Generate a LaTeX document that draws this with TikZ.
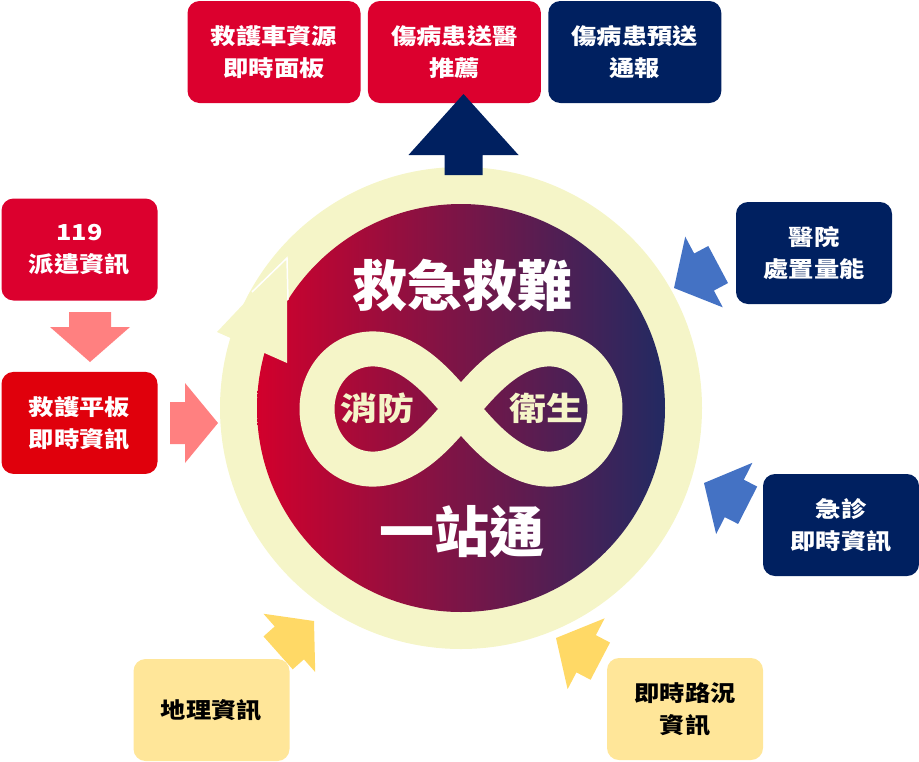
\documentclass[tikz,border=0pt]{standalone}
\usepackage{fontspec}
\newfontfamily\cjk{Noto Sans CJK TC}[FakeStretch=1.15]
\newfontfamily\cjkbig{Noto Sans CJK TC}
\usetikzlibrary{positioning}

\definecolor{boxred}{RGB}{220,0,46}
\definecolor{boxredb}{RGB}{224,0,12}
\definecolor{navy}{RGB}{0,32,96}
\definecolor{pinkarr}{RGB}{255,128,128}
\definecolor{bluearr}{RGB}{68,114,196}
\definecolor{goldarr}{RGB}{255,217,102}
\definecolor{goldbox}{RGB}{255,230,153}
\definecolor{cream}{RGB}{245,245,200}
\definecolor{discL}{RGB}{210,0,44}
\definecolor{discM}{RGB}{132,18,72}
\definecolor{discR}{RGB}{34,42,98}

\begin{document}
\begin{tikzpicture}[x=1pt,y=-1pt,node distance=7pt,
    infobox/.style={rounded corners=12pt,minimum width=156pt,minimum height=102pt,
      align=center,inner sep=0pt,font=\cjk\bfseries\fontsize{22}{32}\selectfont},
    redbox/.style={infobox,fill=boxred,text=white},
    navybox/.style={infobox,fill=navy,text=white},
    goldbox/.style={infobox,fill=goldbox,text=black},
    topbox/.style={minimum width=173pt},
    pics/fatarrow/.style n args={4}{code={
      \fill (0,0) -- (-#2,#3) -- (-#2,#4) -- (-#1,#4) -- (-#1,-#4) -- (-#2,-#4) -- (-#2,-#3) -- cycle;}}]

  \useasboundingbox (0,0) rectangle (919,761);

  \coordinate (c) at (461,408);
  \fill[cream] (c) circle (241);
  \shade[left color=discL,middle color=discM,right color=discR] (c) circle (204);
  \fill[cream] (287,258) -- (217,332) -- (287,363) -- cycle;
  \draw[white,line width=1.5pt] (252,292) -- (287,258) -- (288,300);
  \draw[cream,line width=35pt,line join=round]
    plot[domain=0:358,samples=180,smooth cycle]
    ({461+144*cos(\x)/(1+pow(sin(\x),2))},{409+170*sin(\x)*cos(\x)/(1+pow(sin(\x),2))});

  \node[text=white,font=\cjkbig\bfseries\fontsize{55}{60}\selectfont] (rescue) at (462,285) {救急救難};
  \node[text=white,font=\cjkbig\bfseries\fontsize{55}{60}\selectfont] (onestop) at (462,532) {一站通};
  \node[text=cream,font=\cjk\bfseries\fontsize{32}{36}\selectfont] (fire) at (377,408) {消防};
  \node[text=cream,font=\cjk\bfseries\fontsize{32}{36}\selectfont] (health) at (546,408) {衛生};

  \node[redbox,topbox] (fleet) at (274,52) {救護車資源\\即時面板};
  \node[redbox,topbox,right=of fleet] (referral) {傷病患送醫\\推薦};
  \node[navybox,topbox,right=of referral] (notice) {傷病患預送\\通報};

  \node[redbox] (dispatch) at (79.5,249.5) {119\\派遣資訊};
  \node[redbox,fill=boxredb,below=71pt of dispatch] (tablet) {救護平板\\即時資訊};

  \node[navybox] (hospital) at (814,253) {醫院\\處置量能};
  \node[navybox] (er) at (841,525) {急診\\即時資訊};

  \node[goldbox] (geo) at (211.5,710) {地理資訊};
  \node[goldbox] (traffic) at (685,709) {即時路況\\資訊};

  \pic[fill=navy,rotate=90] at (463.5,94) {fatarrow={81}{61}{55}{19}};
  \pic[fill=pinkarr,rotate=-90] at (90,362) {fatarrow={50}{35}{40}{21}};
  \pic[fill=pinkarr] at (218,423) {fatarrow={48}{33}{40}{21}};
  \pic[fill=bluearr,rotate=208] at (674,288) {fatarrow={50}{34}{40}{21}};
  \pic[fill=bluearr,rotate=153] at (704,483) {fatarrow={49}{34}{40}{21}};
  \pic[fill=goldarr,rotate=41.6] at (314,621) {fatarrow={48}{33}{39}{22}};
  \pic[fill=goldarr,rotate=152.4] at (556,638) {fatarrow={50}{34}{40}{21}};

\end{tikzpicture}
\end{document}
